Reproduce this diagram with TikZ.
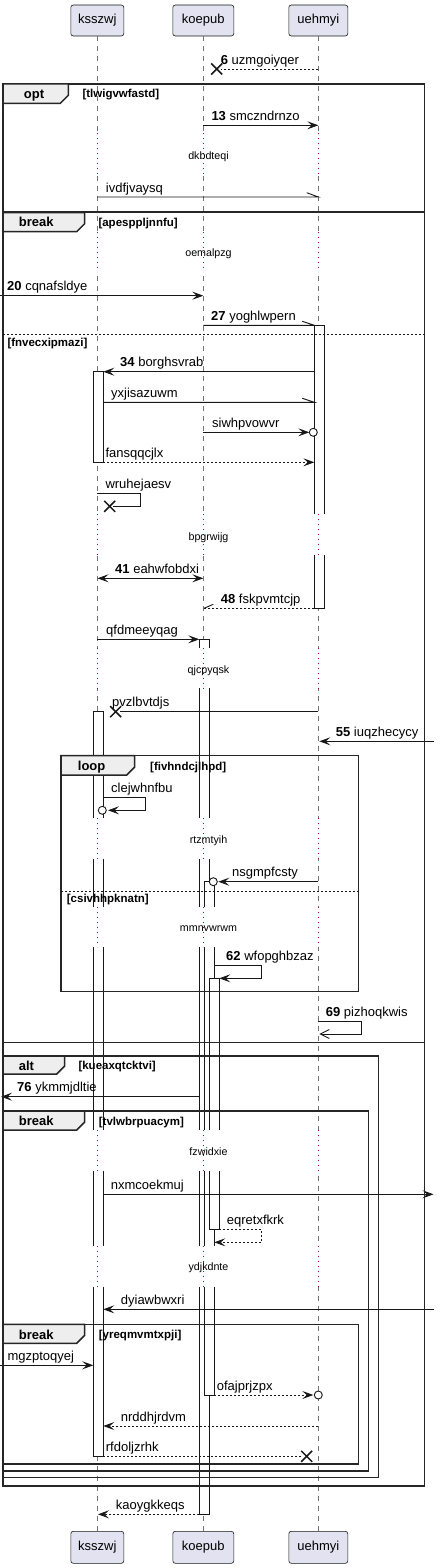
\documentclass[tikz,border=0pt]{standalone}
\usepackage{fontspec}
\setmainfont{Liberation Sans}
\usetikzlibrary{arrows.meta}
\definecolor{partfill}{HTML}{E2E2F0}
\definecolor{ink}{HTML}{181818}
\definecolor{tabfill}{HTML}{EEEEEE}
\definecolor{delayred}{HTML}{A80036}
\newcommand\seqdelay[4]{%
  \fill[white] (88,#1) rectangle (330,#2);
  \foreach \xx in {97.3,203.3,318.3}{\draw[dly] (\xx,#1) -- (\xx,#2);}
  \node[dtext] (dl#4) at (208.5,#3) {#4};}
\newcommand\xcross[2]{\draw[xmark] (#1-5.5,#2-5.5) -- (#1+5.5,#2+5.5) (#1-5.5,#2+5.5) -- (#1+5.5,#2-5.5);}
\begin{document}
\begin{tikzpicture}[x=1pt,y=-1pt,
  part/.style={draw=ink, fill=partfill, rounded corners=2.5pt, line width=0.6pt, minimum width=#1, minimum height=31pt, inner sep=0pt, font=\fontsize{13}{15}\selectfont},
  life/.style={draw=black!55, line width=0.7pt, dash pattern=on 5pt off 5pt},
  act/.style={draw=ink, fill=white, line width=0.9pt},
  dly/.style={draw=delayred, line width=0.9pt, dash pattern=on 1pt off 4pt},
  dtext/.style={anchor=base, inner sep=0pt, font=\fontsize{10.7}{12}\selectfont},
  msg/.style={draw=ink, line width=0.9pt},
  dsh/.style={dash pattern=on 2pt off 2pt},
  tip/.style={-{Stealth[length=11pt,width=8pt,inset=4.5pt]}},
  biarr/.style={{Stealth[length=11pt,width=8pt,inset=4.5pt]}-{Stealth[length=11pt,width=8pt,inset=4.5pt]}},
  opentip/.style={-{Straight Barb[length=9pt,width=9pt]}},
  xmark/.style={draw=ink, line width=1.5pt},
  circ/.style={draw=ink, fill=white, line width=0.9pt},
  lbl/.style={anchor=base west, inner sep=0pt, font=\fontsize{13}{15}\selectfont},
  frm/.style={draw=black!85, line width=1.5pt},
  tabshape/.style={draw=black!85, fill=tabfill, line width=1.5pt},
  tabtxt/.style={anchor=base west, inner sep=0pt, font=\bfseries\fontsize{13}{15}\selectfont},
  cond/.style={anchor=base west, inner sep=0pt, font=\bfseries\fontsize{11.5}{13}\selectfont},
  elsel/.style={draw=ink, line width=0.9pt, dash pattern=on 2pt off 2pt},
]
\useasboundingbox (0,0) rectangle (439,1568);

% participants
\node[part=53] (kT) at (97.3,20.5) {ksszwj};
\node[part=61] (pT) at (203.3,20.5) {koepub};
\node[part=59] (uT) at (318.3,20.5) {uehmyi};
\node[part=53, minimum height=32pt] (kB) at (97.3,1547.3) {ksszwj};
\node[part=61, minimum height=32pt] (pB) at (203.3,1547.3) {koepub};
\node[part=59, minimum height=32pt] (uB) at (318.3,1547.3) {uehmyi};

% lifelines
\draw[life] (kT.south) -- (kB.north);
\draw[life] (pT.south) -- (pB.north);
\draw[life] (uT.south) -- (uB.north);

% activations
\draw[act] (314.3,325.3) rectangle (324.3,608.3);
\draw[act] (93.3,371.7) rectangle (103.3,462.3);
\draw[act] (199.3,639.3) rectangle (209.3,1514.3);
\draw[act] (93.3,711.7) rectangle (103.3,1456.3);
\draw[act] (204.3,881.7) rectangle (214.3,1395);
\draw[act] (209.3,978.3) rectangle (219.3,1229.3);

% delays
\seqdelay{133.3}{174}{159.3}{dkbdteqi}
\seqdelay{231.7}{271.7}{256.7}{oemalpzg}
\seqdelay{514.3}{555}{540}{bpgrwijg}
\seqdelay{647.7}{688.3}{673.3}{qjcpyqsk}
\seqdelay{818.3}{859.3}{843.7}{rtzmtyih}
\seqdelay{906.7}{946.7}{931.7}{mmnvwrwm}
\seqdelay{1130}{1171}{1155.7}{fzwidxie}
\seqdelay{1245.7}{1286.7}{1270.7}{ydjkdnte}

% messages
\draw[msg,dsh] (318.3,69) -- (221,69);
\xcross{216.7}{69}
\node[lbl] (m6) at (220.7,64.3) {\textbf{6} uzmgoiyqer};

\draw[msg,tip] (203.3,125.3) -- (318.3,125.3);
\node[lbl] (m13) at (211.3,120.5) {\textbf{13} smczndrnzo};

\draw[msg] (97.3,197) -- (318.3,197) -- (306.7,192.7);
\node[lbl] (mivd) at (105.7,192.3) {ivdfjvaysq};

\draw[msg,tip] (0,295.7) -- (203.3,295.7);
\node[lbl] (m20) at (7,290.8) {\textbf{20} cqnafsldye};

\draw[msg] (203.3,325.3) -- (314.3,325.3) -- (302.3,321.3);
\node[lbl] (m27) at (211,320.5) {\textbf{27} yoghlwpern};

\draw[msg,tip] (314.3,371.7) -- (103.3,371.7);
\node[lbl] (m34) at (120,366.8) {\textbf{34} borghsvrab};

\draw[msg] (103.3,402.3) -- (314.3,402.3) -- (302.3,398.3);
\node[lbl] (myxj) at (111,397.5) {yxjisazuwm};

\draw[msg,tip] (203.3,432.3) -- (309.3,432.3);
\draw[circ] (313.3,432.3) circle[radius=4];
\node[lbl] (msiw) at (212,427.5) {siwhpvowvr};

\draw[msg,dsh,tip] (103.3,462.3) -- (314.3,462.3);
\node[lbl] (mfan) at (105.3,457.5) {fansqqcjlx};

\draw[msg] (97.3,493.7) -- (140.7,493.7) -- (140.7,506.3) -- (113,506.3);
\xcross{109.7}{506.3}
\node[lbl] (mwru) at (105.3,488.8) {wruhejaesv};

\draw[msg,biarr] (97.5,578.3) -- (203.3,578.3);
\node[lbl] (m41) at (115,573.3) {\textbf{41} eahwfobdxi};

\draw[msg,dsh] (314.3,608.3) -- (204,608.3);
\draw[msg] (204,608.3) -- (213.3,604.3);
\node[lbl] (m48) at (220.7,603.3) {\textbf{48} fskpvmtcjp};

\draw[msg,tip] (97.3,639.3) -- (199.3,639.3);
\node[lbl] (mqfd) at (106,634.3) {qfdmeeyqag};

\draw[msg] (318.3,711.7) -- (120,711.7);
\xcross{115.7}{711.7}
\node[lbl] (mpvz) at (112,706.5) {pvzlbvtdjs};

\draw[msg,tip] (434,741.3) -- (319.3,741.3);
\node[lbl] (m55) at (335.7,736.3) {\textbf{55} iuqzhecycy};

\draw[msg,tip] (103.3,797.7) -- (145.7,797.7) -- (145.7,810.3) -- (108,810.3);
\draw[circ] (102.3,810.3) circle[radius=4];
\node[lbl] (mcle) at (111,792.8) {clejwhnfbu};

\draw[msg,tip] (318.3,881.7) -- (218.3,881.7);
\draw[circ] (213.3,881.7) circle[radius=4];
\node[lbl] (mnsg) at (232,876.8) {nsgmpfcsty};

\draw[msg,tip] (214.3,965.7) -- (261.7,965.7) -- (261.7,978.3) -- (219.3,978.3);
\node[lbl] (m62) at (226,960.8) {\textbf{62} wfopghbzaz};

\draw[msg,opentip] (318.3,1021.7) -- (361.7,1021.7) -- (361.7,1034) -- (319.3,1034);
\node[lbl] (m69) at (325.7,1016.8) {\textbf{69} pizhoqkwis};

\draw[msg,tip] (199.3,1096.7) -- (1,1096.7);
\node[lbl] (m76) at (17,1091.8) {\textbf{76} ykmmjdltie};

\draw[msg,tip] (103.3,1194.3) -- (433.5,1194.3);
\node[lbl] (mnxm) at (110.7,1189.3) {nxmcoekmuj};

\draw[msg,dsh,tip] (219.3,1229.3) -- (261.7,1229.3) -- (261.7,1242.3) -- (214.3,1242.3);
\node[lbl] (meqr) at (226.7,1224.5) {eqretxfkrk};

\draw[msg,tip] (434,1309.3) -- (103.3,1309.3);
\node[lbl] (mdyi) at (120.7,1304.3) {dyiawbwxri};

\draw[msg,tip] (0,1365.3) -- (93.3,1365.3);
\node[lbl] (mmgz) at (7.3,1360.3) {mgzptoqyej};

\draw[msg,dsh,tip] (214.3,1395) -- (313.3,1395);
\draw[circ] (318.3,1395) circle[radius=4];
\node[lbl] (mofa) at (216.7,1390) {ofajprjzpx};

\draw[msg,dsh,tip] (318.3,1426) -- (103.3,1426);
\node[lbl] (mnrd) at (120.7,1421) {nrddhjrdvm};

\draw[msg,dsh] (103.3,1456.3) -- (302,1456.3);
\xcross{306.7}{1456.3}
\node[lbl] (mrfd) at (105.7,1451.3) {rfdoljzrhk};

\draw[msg,dsh,tip] (199.3,1514.3) -- (98,1514.3);
\node[lbl] (mkao) at (115.7,1509.3) {kaoygkkeqs};

% frames
\draw[frm] (3,84) rectangle (424.3,211.7);
\draw[tabshape] (3,84) -- (68.3,84) -- (68.3,95.3) -- (60.3,103.3) -- (3,103.3) -- cycle;
\node[tabtxt] (fopt) at (23.7,98.3) {opt};
\node[cond] (copt) at (82.3,97.3) {[tlwigvwfastd]};

\draw[frm] (3,212.7) rectangle (424.3,1486);
\draw[tabshape] (3,212.7) -- (84.7,212.7) -- (84.7,223.7) -- (76.7,231.7) -- (3,231.7) -- cycle;
\node[tabtxt] (fbr1) at (18.7,226.7) {break};
\node[cond] (cbr1) at (98.3,226) {[apesppljnnfu]};
\draw[elsel] (3,334.3) -- (424.3,334.3);
\node[cond] (cel1) at (7.3,346) {[fnvecxipmazi]};
\draw[frm] (3,1042.3) -- (424.3,1042.3);

\draw[frm] (61,755.7) rectangle (358.3,991.7);
\draw[tabshape] (61,755.7) -- (134.7,755.7) -- (134.7,767) -- (126.7,775) -- (61,775) -- cycle;
\node[tabtxt] (floop) at (77.7,770.7) {loop};
\node[cond] (cloop) at (150,770) {[fivhndcjlhpd]};
\draw[elsel] (61,891) -- (358.3,891);
\node[cond] (cel2) at (66.7,902.7) {[csivhhpknatn]};

\draw[frm] (3,1056) rectangle (378.3,1477.7);
\draw[tabshape] (3,1056) -- (64.7,1056) -- (64.7,1066) -- (56.7,1074) -- (3,1074) -- cycle;
\node[tabtxt] (falt) at (18.7,1070.7) {alt};
\node[cond] (calt) at (78.3,1069) {[kueaxqtcktvi]};

\draw[frm] (3,1111) rectangle (368.3,1471);
\draw[tabshape] (3,1111) -- (84.7,1111) -- (84.7,1122) -- (76.7,1130) -- (3,1130) -- cycle;
\node[tabtxt] (fbr2) at (18.7,1125.7) {break};
\node[cond] (cbr2) at (98.7,1125) {[tvlwbrpuacym]};

\draw[frm] (3,1324.3) rectangle (358.3,1464);
\draw[tabshape] (3,1324.3) -- (84.7,1324.3) -- (84.7,1335.3) -- (76.7,1343.3) -- (3,1343.3) -- cycle;
\node[tabtxt] (fbr3) at (18.7,1339) {break};
\node[cond] (cbr3) at (98.7,1338) {[yreqmvmtxpji]};
\end{tikzpicture}
\end{document}
